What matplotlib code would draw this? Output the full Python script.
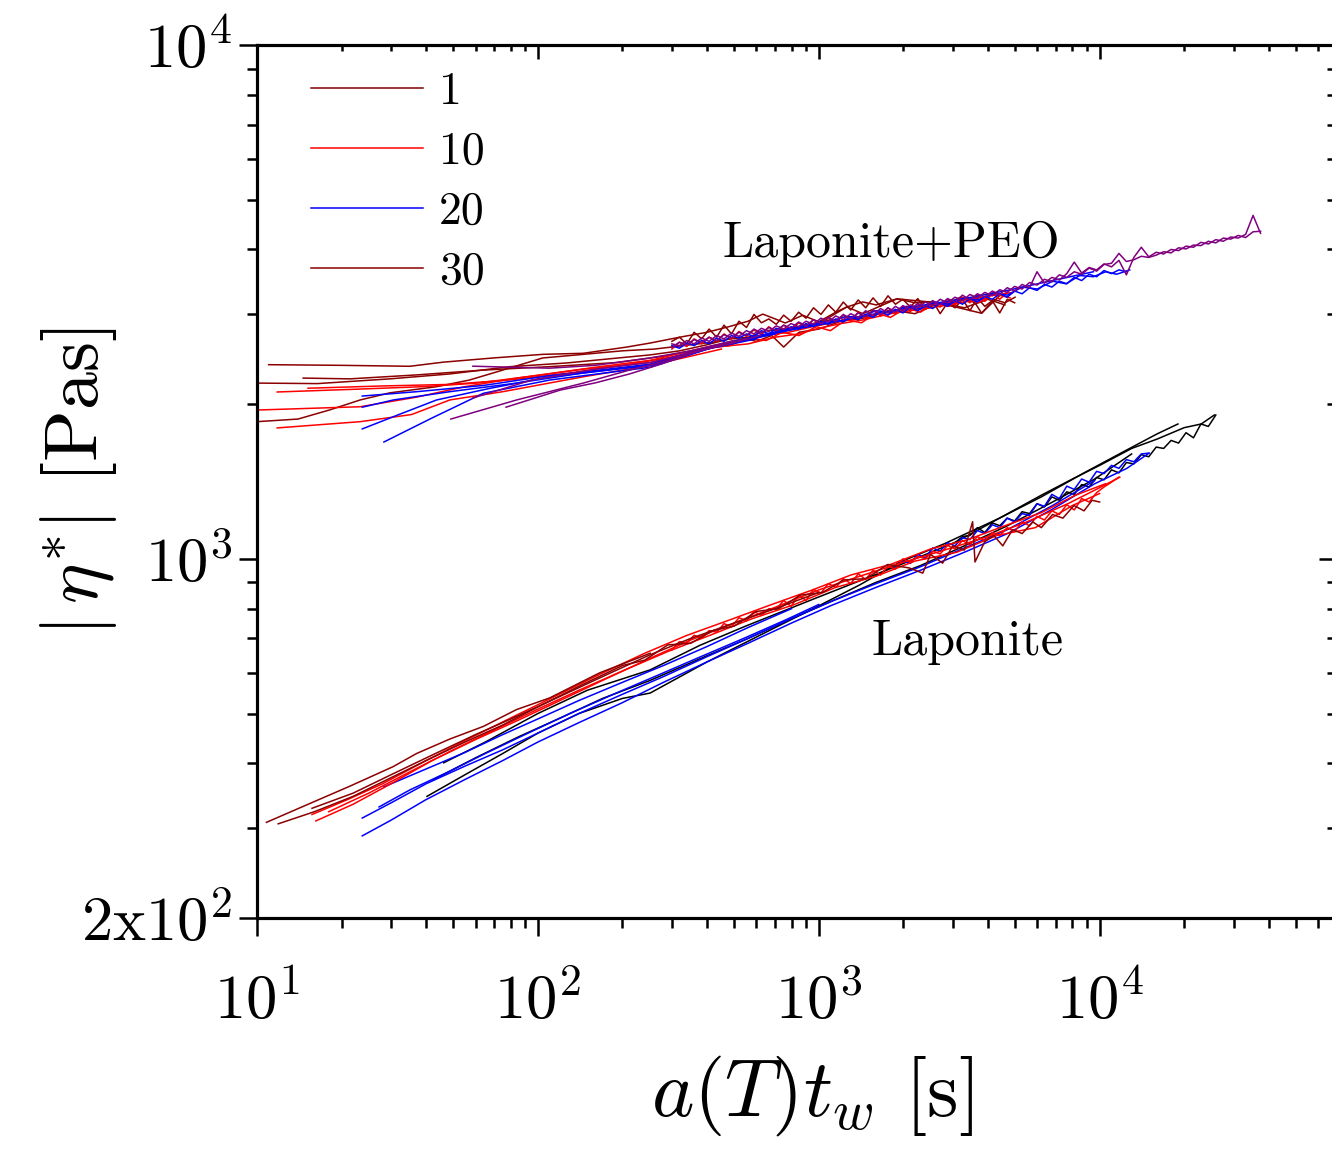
import matplotlib
matplotlib.use("Agg")
import matplotlib.pyplot as plt
from matplotlib.lines import Line2D
from matplotlib.ticker import FixedLocator, NullFormatter, LogLocator

plt.rcParams['font.family'] = 'cmr10'
plt.rcParams['mathtext.fontset'] = 'cm'
plt.rcParams['axes.formatter.use_mathtext'] = True

DARKRED = '#8b0000'
RED = '#ff0000'
BLUE = '#0000ff'
PURPLE = '#800080'
BLACK = '#000000'

# sampling times of the long (noisy) part of the runs
tail_x = [300, 319, 339, 360, 383, 407, 433, 460, 489, 520, 553, 588, 625, 664, 706, 750, 797, 848, 901, 958,
          1018, 1082, 1150, 1223, 1300, 1382, 1469, 1561, 1660, 1764, 1875, 1993, 2119, 2252, 2394, 2545, 2705,
          2875, 3056, 3249, 3453, 3671, 3902, 4148, 4409, 4687, 4982, 5296, 5629, 5984, 6361, 6761, 7187, 7640,
          8121, 8632, 9176, 9754, 10368, 11021, 11715, 12453, 13238, 14072, 14958, 15900, 16902, 17967, 19099,
          20302, 21581, 22940, 24386, 25922, 27555, 29291, 31136, 33098, 35183, 37400]

# ---- Laponite+PEO curves ----
peo_darkred_x = [
    [11, 20, 35, 46, 70, 104, 145, 207, 251, 320, 400, 482, 560, 632, 700, 760, 877, 1000, 1150, 1260, 1435, 1600, 1900, 2200, 2480, 2800, 3200, 3600, 3800, 4200, 4600, 5000],
    [10, 14, 18.2, 23.3, 29.7, 43.6, 57, 75, 104, 145, 200, 260, 330, 420, 520, 600, 680, 750, 850, 1000, 1200, 1500, 1800, 2200, 2700, 3300, 4000, 4600],
    [10, 16.4, 29.7, 48.6, 79.6, 126, 251, 320, 400, 480, 560, 650, 760, 900, 1100],
    [14.6, 21.4, 37, 64, 110, 191, 280, 380, 500, 650, 800, 1000, 1259, 1435, 1897, 2483, 3000, 3800, 4400],
    tail_x[:47],
]
peo_darkred_y = [
    [2387, 2380, 2370, 2414, 2461, 2500, 2512, 2583, 2630, 2700, 2760, 2833, 2900, 2994, 2930, 2877, 2979, 2893, 3020, 3092, 3162, 3120, 3206, 3150, 3162, 3120, 3230, 3150, 3006, 3200, 3150, 3230],
    [1849, 1871, 1950, 2038, 2104, 2163, 2228, 2330, 2460, 2500, 2540, 2560, 2600, 2640, 2700, 2650, 2720, 2583, 2760, 2800, 2900, 2950, 3050, 3000, 3150, 3080, 3200, 3120],
    [2198, 2193, 2240, 2290, 2366, 2405, 2494, 2540, 2610, 2680, 2700, 2780, 2800, 2850, 2920],
    [2248, 2240, 2280, 2330, 2366, 2410, 2480, 2560, 2660, 2720, 2800, 2870, 3092, 3000, 3206, 3162, 3100, 3006, 3250],
    [2650, 2700, 2620, 2760, 2680, 2800, 2700, 2850, 2740, 2900, 2820, 2990, 2880, 2930, 2860, 2980, 2900, 3020, 2940, 3080,
     2990, 3120, 3020, 3160, 3050, 3190, 3080, 3220, 3100, 3250, 3130, 3200, 3090, 3210, 3060, 3180, 3000, 3150, 3080, 3200,
     3040, 3220, 3100, 3180, 3010, 3200, 3150],
]

peo_red_x = [
    [11.8, 23.3, 39, 60.7, 99, 166, 251, 330, 420, 520, 640, 780, 950, 1150, 1400, 1700, 2100, 2600, 3200, 3900, 4900],
    [15.2, 28, 48.6, 80, 130, 200, 300, 420, 560, 700, 850, 1000, 1200, 1450, 1800, 2200, 2700, 3300, 4000],
    [10, 23.3, 37, 55, 84, 145, 251, 330, 400, 480, 560, 650, 740, 850, 980, 1100, 1250, 1420, 1600, 1800, 2050, 2300, 2600, 2900, 3300, 3700, 4200, 4800],
    [11.8, 23.3, 35.5, 48.6, 75, 145, 251, 350, 450],
    tail_x[:46],
]
peo_red_y = [
    [2112, 2140, 2163, 2198, 2273, 2366, 2434, 2520, 2600, 2640, 2720, 2760, 2830, 2890, 2950, 3010, 3060, 3130, 3180, 3240, 3300],
    [2148, 2170, 2185, 2230, 2300, 2380, 2470, 2580, 2620, 2700, 2740, 2810, 2870, 2920, 3000, 3050, 3100, 3160, 3220],
    [1948, 1977, 2064, 2163, 2248, 2340, 2410, 2490, 2570, 2600, 2690, 2660, 2760, 2720, 2830, 2780, 2920, 2880, 3010, 2950, 3080, 3020, 3150, 3100, 3220, 3150, 3280, 3220],
    [1798, 1849, 1909, 2038, 2115, 2261, 2378, 2480, 2560],
    [2560, 2640, 2590, 2680, 2620, 2700, 2650, 2740, 2680, 2770, 2710, 2790, 2730, 2830, 2760, 2850, 2790, 2880, 2820, 2920,
     2850, 2950, 2880, 2980, 2900, 3020, 2940, 3050, 2970, 3080, 3000, 3100, 3030, 3130, 3060, 3170, 3090, 3200, 3120, 3230,
     3150, 3260, 3170, 3290, 3200, 3300],
]

peo_blue_x = [
    [23.7, 37, 64, 110, 251, 350, 480, 650, 850, 1100, 1250, 1400, 1600, 1800, 2050, 2300, 2600, 2900, 3300, 3700, 4200, 4700, 5300, 6000, 6800, 7600, 8500, 9500, 10500, 11500, 12800],
    [23.7, 30.6, 48.6, 84, 145, 251, 380, 560, 800, 1100, 1600, 2300, 3300, 4700, 6800, 9500],
    [23.7, 32, 43.6, 67, 110, 251, 400, 600],
    [28.3, 42, 64, 110, 251, 420, 700],
    tail_x[:62],
]
peo_blue_y = [
    [2074, 2115, 2175, 2273, 2390, 2500, 2640, 2740, 2830, 2900, 2960, 2960, 3040, 3020, 3100, 3070, 3160, 3130, 3220, 3190, 3290, 3260, 3380, 3350, 3470, 3430, 3560, 3540, 3620, 3580, 3650],
    [1973, 2038, 2115, 2198, 2300, 2390, 2560, 2680, 2790, 2880, 3000, 3110, 3210, 3330, 3480, 3620],
    [1790, 1909, 2038, 2145, 2261, 2378, 2560, 2680],
    [1688, 1880, 2100, 2228, 2360, 2580, 2740],
    [2600, 2570, 2630, 2600, 2660, 2620, 2690, 2650, 2720, 2690, 2740, 2710, 2780, 2740, 2810, 2770, 2830, 2800, 2870, 2830,
     2900, 2860, 2930, 2890, 2960, 2920, 2990, 2950, 3030, 2980, 3060, 3010, 3090, 3040, 3110, 3070, 3150, 3100, 3180, 3130,
     3210, 3160, 3240, 3200, 3280, 3230, 3320, 3280, 3370, 3330, 3420, 3380, 3470, 3430, 3530, 3480, 3580, 3540, 3640, 3590,
     3650, 3620],
]

peo_purple_x = [
    [58.7, 80, 110, 160, 251, 350, 500],
    [58.7, 95, 160, 251, 380, 550],
    [49, 84, 145, 212, 279, 368, 480],
    [77, 120, 160, 212, 279, 368, 480, 620],
    tail_x,
    tail_x,
]
peo_purple_y = [
    [2371, 2360, 2350, 2380, 2460, 2540, 2660],
    [2056, 2228, 2340, 2410, 2550, 2680],
    [1871, 2038, 2198, 2330, 2420, 2530, 2640],
    [1973, 2130, 2200, 2290, 2400, 2530, 2620, 2720],
    [2580, 2640, 2610, 2670, 2640, 2700, 2660, 2730, 2690, 2760, 2720, 2800, 2750, 2820, 2780, 2850, 2810, 2890, 2840, 2920,
     2870, 2950, 2900, 2990, 2930, 3010, 2960, 3050, 2990, 3080, 3020, 3110, 3060, 3140, 3090, 3180, 3120, 3210, 3160, 3260,
     3190, 3280, 3230, 3320, 3270, 3370, 3320, 3420, 3370, 3620, 3440, 3530, 3490, 3590, 3780, 3600, 3690, 3650, 3750, 3700,
     3810, 3570, 3860, 4040, 3870, 3950, 3920, 4000, 3980, 4060, 4040, 4130, 4100, 4180, 4150, 4230, 4210, 4280, 4660, 4300],
    [2620, 2600, 2660, 2620, 2690, 2650, 2720, 2680, 2750, 2710, 2780, 2740, 2810, 2770, 2840, 2800, 2870, 2830, 2900, 2860,
     2940, 2890, 2970, 2920, 3000, 2950, 3040, 2980, 3070, 3010, 3100, 3040, 3120, 3080, 3160, 3110, 3200, 3150, 3230, 3180,
     3270, 3220, 3300, 3250, 3340, 3300, 3390, 3350, 3450, 3410, 3500, 3460, 3570, 3530, 3620, 3580, 3680, 3630, 3740, 3760,
     3930, 3790, 3820, 3880, 3860, 3900, 3960, 3940, 4030, 4010, 4080, 4070, 4150, 4120, 4210, 4190, 4260, 4220, 4330, 4340],
]

# ---- Laponite curves ----
lap_darkred_x = [
    [10.8, 15.8, 21.4, 30.5, 37, 48.6, 64, 84, 110, 166, 251],
    [11.9, 16, 22, 30, 40, 55, 75, 100, 140, 200, 240, 290, 350, 420, 500, 600, 720, 860, 1030, 1230, 1470, 1760, 2100, 2345, 2500, 2760, 3000, 3300, 3530, 3600, 3900, 4200, 4520, 4900, 5300, 5780, 6200, 6800, 7400, 8100, 8800, 9400, 10000],
    [15.7, 22, 30, 42, 60, 85, 120, 170, 250, 350, 500, 700, 1000],
]
lap_darkred_y = [
    [307, 336, 361, 394, 418, 446, 472, 509, 536, 600, 655],
    [305, 322, 345, 375, 405, 440, 475, 515, 565, 620, 635, 680, 685, 725, 740, 790, 800, 850, 860, 910, 915, 975, 960, 938, 1020, 981, 1060, 1040, 1181, 986, 1080, 1110, 1060, 1140, 1120, 1180, 1150, 1220, 1200, 1270, 1240, 1300, 1290],
    [327, 350, 380, 415, 455, 495, 540, 590, 650, 700, 750, 800, 860],
]

lap_red_x = [
    [16.2, 22, 30, 42, 60, 85, 120, 170, 250, 350, 500, 700, 1000, 1400, 2000, 2800, 3900, 5500, 7700, 9600, 11800],
    [15.7, 21, 28, 40, 56, 80, 115, 165, 240, 340, 480, 680, 950, 1300, 1800, 2500, 3400, 4600, 6200, 8200, 10500],
    [18, 25, 35, 50, 70, 100, 140, 200, 290, 410, 580, 820, 1150, 1600, 2200, 3100, 4300, 5900, 8000, 10000],
    tail_x[:61],
]
lap_red_y = [
    [309, 333, 365, 405, 445, 485, 530, 580, 640, 695, 750, 805, 870, 925, 985, 1040, 1100, 1180, 1280, 1360, 1442],
    [318, 340, 365, 405, 445, 490, 540, 595, 655, 710, 760, 815, 870, 930, 975, 1045, 1090, 1160, 1230, 1330, 1400],
    [322, 350, 385, 425, 465, 510, 555, 605, 660, 710, 765, 815, 880, 925, 990, 1030, 1110, 1150, 1270, 1340],
    [665, 690, 685, 710, 700, 725, 720, 748, 738, 768, 758, 790, 776, 800, 798, 830, 808, 850, 830, 872,
     858, 895, 880, 915, 895, 935, 912, 950, 930, 968, 955, 1000, 985, 1012, 1000, 1035, 1022, 1062, 1045, 1085,
     1065, 1105, 1085, 1125, 1110, 1150, 1130, 1180, 1160, 1210, 1190, 1240, 1220, 1275, 1245, 1310, 1290, 1345, 1380, 1410,
     1442],
]

lap_blue_x = [
    [23.7, 30, 40, 55, 75, 100, 140, 200, 280, 400, 560, 800, 1100, 1600, 2300, 3300, 4700, 6800, 9600, 12500, 15000],
    [23.7, 30, 40, 55, 75, 100, 140, 200, 280, 400, 560, 800, 1100, 1600, 2300, 3300, 4700, 6800, 9600],
    [27.2, 35, 48, 65, 90, 130, 190, 270, 380, 540, 760, 1000],
    [28.3, 40, 55, 75, 100, 140, 200, 280, 400, 560, 800],
    tail_x[30:65],
]
lap_blue_y = [
    [289, 310, 340, 372, 405, 440, 480, 525, 575, 630, 685, 750, 810, 880, 950, 1030, 1120, 1250, 1400, 1500, 1606],
    [313, 335, 365, 395, 425, 458, 500, 545, 590, 645, 700, 765, 825, 895, 965, 1050, 1140, 1270, 1420],
    [329, 355, 385, 418, 455, 500, 548, 595, 645, 700, 760, 815],
    [360, 390, 420, 455, 488, 530, 575, 620, 675, 735, 800],
    [965, 990, 980, 1020, 1005, 1050, 1035, 1075, 1060, 1100, 1090, 1135, 1120, 1165, 1150, 1200, 1180, 1225, 1215, 1280,
     1265, 1335, 1310, 1385, 1365, 1430, 1410, 1480, 1465, 1520, 1500, 1560, 1545, 1600, 1606],
]

lap_black_x = [
    [40.3, 55, 75, 100, 140, 200, 251, 400, 700, 1000, 1400, 1941, 2800, 4400, 6200, 8000, 10000, 13000, 16000, 20000, 23000, 25600],
    [42.2, 60, 85, 120, 170, 251, 380, 560, 800, 1100, 1600, 2300, 3300, 4700, 6800, 9600, 13000],
    [46.2, 65, 100, 150, 251, 378, 550, 1000, 1500, 2200, 3100, 4400, 6200, 8800, 12000, 16000, 19000],
    tail_x[38:74],
]
lap_black_y = [
    [345, 380, 418, 458, 500, 535, 548, 630, 735, 810, 890, 985, 1070, 1200, 1330, 1430, 1520, 1640, 1710, 1800, 1830, 1905],
    [371, 410, 450, 490, 535, 580, 640, 700, 765, 825, 900, 970, 1060, 1160, 1290, 1430, 1600],
    [401, 440, 500, 555, 608, 679, 740, 843, 920, 1000, 1080, 1200, 1320, 1470, 1610, 1750, 1830],
    [1075, 1105, 1110, 1150, 1125, 1175, 1160, 1200, 1185, 1235, 1225, 1280, 1262, 1320, 1300, 1350, 1335, 1395, 1380, 1440,
     1425, 1490, 1470, 1540, 1530, 1595, 1580, 1650, 1640, 1700, 1680, 1760, 1720, 1830, 1810, 1905],
]

curve_sets = [
    (peo_darkred_x, peo_darkred_y, DARKRED),
    (peo_red_x, peo_red_y, RED),
    (peo_blue_x, peo_blue_y, BLUE),
    (peo_purple_x, peo_purple_y, PURPLE),
    (lap_black_x, lap_black_y, BLACK),
    (lap_blue_x, lap_blue_y, BLUE),
    (lap_red_x, lap_red_y, RED),
    (lap_darkred_x, lap_darkred_y, DARKRED),
]

legend_labels = ['1', '10', '20', '30']
legend_colors = ['#800000', RED, BLUE, DARKRED]

fig = plt.figure(figsize=(13.32, 11.56), dpi=100)
ax = fig.add_axes([257 / 1332, (1156 - 918) / 1156, 1080 / 1332, 873 / 1156])

for xs, ys, color in curve_sets:
    for x, y in zip(xs, ys):
        ax.plot(x, y, color=color, lw=1.1)

ax.set_xscale('log')
ax.set_yscale('log')
ax.set_xlim(10, 7e4)
ax.set_ylim(200, 1e4)

ax.xaxis.set_major_locator(FixedLocator([10, 100, 1000, 10000]))
ax.set_xticklabels([r'$10^{1}$', r'$10^{2}$', r'$10^{3}$', r'$10^{4}$'])
ax.xaxis.set_minor_locator(LogLocator(base=10, subs=range(2, 10)))
ax.xaxis.set_minor_formatter(NullFormatter())
ax.yaxis.set_major_locator(FixedLocator([200, 1000, 10000]))
ax.set_yticklabels([r'$2\mathrm{x}10^{2}$', r'$10^{3}$', r'$10^{4}$'])
ax.yaxis.set_minor_locator(LogLocator(base=10, subs=range(2, 10)))
ax.yaxis.set_minor_formatter(NullFormatter())

ax.tick_params(which='major', direction='out', length=13, width=1.8, labelsize=45)
ax.tick_params(which='minor', direction='out', length=7, width=1.8)
ax.tick_params(axis='x', which='major', pad=26)
ax.tick_params(axis='y', which='major', pad=5)
for s in ax.spines.values():
    s.set_linewidth(2.2)

# inward ticks on the top and right edges
ax_top = ax.twiny()
ax_top.set_xscale('log')
ax_top.set_xlim(ax.get_xlim())
ax_top.xaxis.set_major_locator(FixedLocator([10, 100, 1000, 10000]))
ax_top.xaxis.set_minor_locator(LogLocator(base=10, subs=range(2, 10)))
ax_top.tick_params(which='major', direction='in', length=10, width=1.8, labeltop=False)
ax_top.tick_params(which='minor', direction='in', length=4.5, width=1.8)
ax_right = ax.twinx()
ax_right.set_yscale('log')
ax_right.set_ylim(ax.get_ylim())
ax_right.yaxis.set_major_locator(FixedLocator([1000, 10000]))
ax_right.yaxis.set_minor_locator(LogLocator(base=10, subs=range(2, 10)))
ax_right.tick_params(which='major', direction='in', length=13, width=1.8, labelright=False)
ax_right.tick_params(which='minor', direction='in', length=7, width=1.8)
for a in (ax_top, ax_right):
    for s in a.spines.values():
        s.set_linewidth(2.2)

ax.set_xlabel(r'$a(T)t_{w}$ [s]', fontsize=58)
ax.xaxis.set_label_coords(0.514, -0.155)
ax.set_ylabel(r'$|\,\eta^{*}|$ [Pas]', fontsize=55)
ax.yaxis.set_label_coords(-0.128, 0.5)

ax.text(455, 3863, 'Laponite+PEO', fontsize=36, va='baseline', ha='left')
ax.text(1545, 650, 'Laponite', fontsize=36, va='baseline', ha='left')

handles = [Line2D([], [], color=c, lw=1.1) for c in legend_colors]
ax.legend(handles, legend_labels, loc='upper left', bbox_to_anchor=(0.02, 1.007),
          frameon=False, fontsize=33, handlelength=2.45, handletextpad=0.35,
          labelspacing=0.40, borderpad=0.2)

fig.savefig('out.png', dpi=100)
